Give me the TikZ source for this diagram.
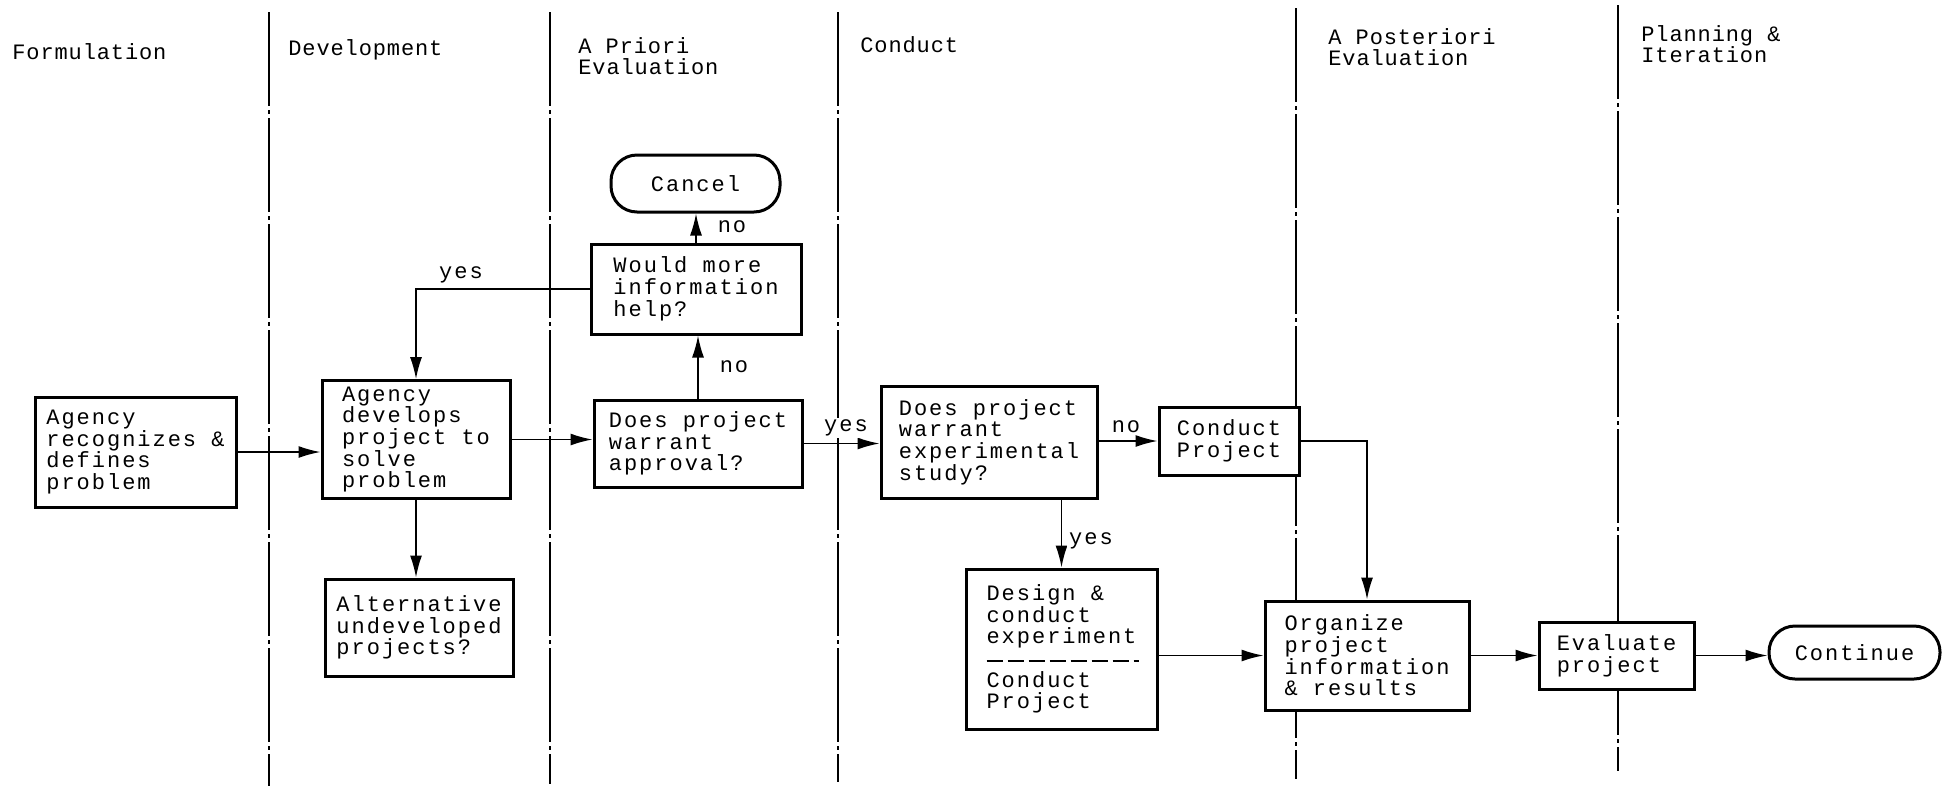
\documentclass[tikz,border=0pt]{standalone}
\usepackage{fontspec}
\setmonofont{Liberation Mono}
\newfontfamily\boxfont[LetterSpace=9]{Liberation Mono}
\newfontfamily\hdrfont[LetterSpace=4]{Liberation Mono}
\usetikzlibrary{arrows.meta,calc}
\begin{document}
\begin{tikzpicture}[x=0.5pt,y=-0.5pt,
  box/.style={draw, fill=white, line width=1.5pt, align=left, font=\boxfont\fontsize{11}{10.85}\selectfont, inner sep=3pt},
  term/.style={box, rounded corners=13pt},
  arr/.style={line width=0.8pt, -{Latex[length=11pt,width=6pt]}},
  lbl/.style={font=\boxfont\fontsize{11}{10.85}\selectfont, inner sep=1pt, fill=white},
  hdr/.style={font=\hdrfont\fontsize{11}{10.5}\selectfont, align=left, anchor=west, inner sep=0pt},
  sepline/.style={line width=1pt, dash pattern=on 47pt off 2pt on 2pt off 2pt},
]
\useasboundingbox (0,0) rectangle (1944,788);

% swimlane separators
\draw[sepline] (269,12) -- (269,786);
\draw[sepline] (550,12) -- (550,784);
\draw[sepline] (838,12) -- (838,782);
\draw[sepline] (1296,8) -- (1296,779);
\draw[sepline] (1618,5) -- (1618,771);

% headers
\node[hdr] (h1) at (12,52) {Formulation};
\node[hdr] (h2) at (288,50) {Development};
\node[hdr] (h3) at (578,56.5) {A Priori\\Evaluation};
\node[hdr] (h4) at (860,45) {Conduct};
\node[hdr] (h5) at (1328,47.5) {A Posteriori\\Evaluation};
\node[hdr] (h6) at (1641,44.5) {Planning \&\\Iteration};

% connectors (drawn before boxes)
\node[box, minimum width=100.5pt, minimum height=55pt] (b1) at (135.5,452) {Agency\\recognizes \&\\defines\\problem};
\node[box, minimum width=94pt, minimum height=57.5pt] (b2) at (416,439.5) {Agency\\develops\\project to\\solve\\problem};
\node[box, minimum width=94pt, minimum height=48.5pt] (b3) at (419,627.5) {Alternative\\undeveloped\\projects?};
\node[box, minimum width=105pt, minimum height=45pt] (b4) at (696,289) {Would more\\information\\help?};
\node[term, minimum width=84.5pt, minimum height=28.5pt] (cancel) at (695.5,183.5) {Cancel};
\node[box, minimum width=104pt, minimum height=43.5pt] (b5) at (698,443.5) {Does project\\warrant\\approval?};
\node[box, minimum width=108pt, minimum height=56pt] (b6) at (989,442) {Does project\\warrant\\experimental\\study?};
\node[box, minimum width=70pt, minimum height=34pt] (b7) at (1229,441) {Conduct\\Project};
\node[box, minimum width=95.5pt, minimum height=80pt] (b8) at (1061.5,649) {Design \&\\conduct\\experiment\\[10.85pt]Conduct\\Project};
\node[box, minimum width=102pt, minimum height=54.5pt] (b9) at (1367,655.5) {Organize\\project\\information\\\& results};
\node[box, minimum width=77.5pt, minimum height=33.5pt] (b10) at (1616.5,655.5) {Evaluate\\project};
\node[term, minimum width=85.5pt, minimum height=26.5pt] (cont) at (1854.5,652.5) {Continue};

\draw[line width=1pt, dash pattern=on 8pt off 2.5pt] ($(b8.west)+(22,12)$) -- ($(b8.east)+(-20,12)$);

% connectors
\draw[arr] (b1.east) -- (b1.east -| b2.west);
\draw[arr] (b2.east) -- (b2.east -| b5.west);
\draw[arr] (b2.south) -- (b2.south |- b3.north);
\draw[arr] (b5.north) -- (b5.north |- b4.south);
\draw[arr] (b4.north) -- (b4.north |- cancel.south);
\draw[arr] (b4.west) -| (b2.north);
\draw[arr] (b5.east) -- (b5.east -| b6.west);
\draw[arr] (b6.east |- b7.west) -- (b7.west);
\draw[arr] (b6.south -| b8.north) -- (b8.north);
\draw[arr] (b7.east) -| (b9.north);
\draw[arr] (b9.west -| b8.east) -- (b9.west);
\draw[arr] (b9.east) -- (b9.east -| b10.west);
\draw[arr] (b10.east) -- (b10.east -| cont.west);

% labels
\node[lbl] (l1) at (734,367) {no};
\node[lbl] (l2) at (732,227) {no};
\node[lbl] (l3) at (461,275) {yes};
\node[lbl] (l4) at (846,428) {yes};
\node[lbl] (l5) at (1126,427) {no};
\node[lbl] (l6) at (1091,541) {yes};
\end{tikzpicture}
\end{document}
